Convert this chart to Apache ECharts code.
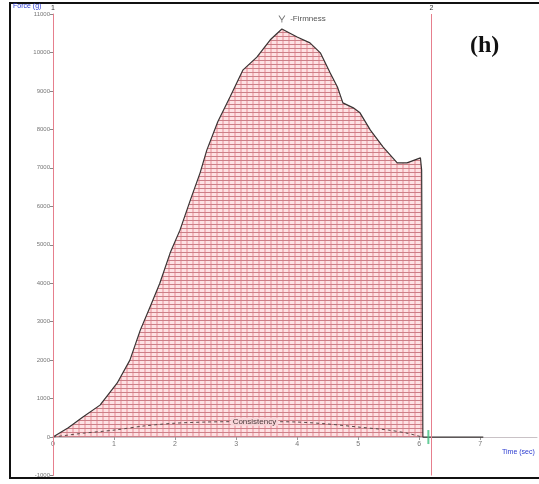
<!DOCTYPE html>
<html><head><meta charset="utf-8">
<script src="https://cdn.jsdelivr.net/npm/echarts@6/dist/echarts.min.js"></script>
<style>html,body{margin:0;padding:0;background:#fff}#c{width:539px;height:484px}</style>
</head><body><div id="c"></div>
<script>
// Firmness curve: time (s), force (g)
const firmTime  = [0, 0.25, 0.49, 0.77, 1.05, 1.26, 1.43, 1.59, 1.75, 1.92, 2.08, 2.25, 2.41, 2.52, 2.70, 2.90, 3.11, 3.34, 3.56, 3.75, 4.00, 4.21, 4.38, 4.54, 4.66, 4.75, 4.92, 5.03, 5.20, 5.41, 5.64, 5.80, 6.02, 6.04, 6.05, 6.06, 6.20, 7.05];
const firmForce = [0, 240, 520, 830, 1400, 2000, 2780, 3380, 4000, 4790, 5380, 6160, 6870, 7460, 8200, 8840, 9540, 9880, 10330, 10610, 10400, 10250, 9990, 9470, 9100, 8690, 8560, 8430, 7980, 7540, 7130, 7130, 7260, 6940, 6940, 0, 0, 0];
// Consistency curve (dashed)
const consTime  = [0, 0.5, 1.0, 1.5, 2.0, 2.5, 3.0, 3.5, 4.0, 4.5, 5.0, 5.5, 5.8, 6.05];
const consForce = [0, 100, 180, 290, 360, 390, 400, 400, 390, 340, 260, 180, 100, 0];
// Anchors
const anchorTimes = [0, 6.2];
const anchorNames = ['1', '2'];
const peakTime = 3.75, peakForce = 10610;
const consLabelAt = [3.3, 400];
const yTicks = {min: -1000, max: 11000, interval: 1000};
const xTicks = {min: 0, max: 7.93, interval: 1};

// hatch pattern
const pc = document.createElement('canvas');
pc.width = 6; pc.height = 4;
const g = pc.getContext('2d');
g.fillStyle = '#fde2e4'; g.fillRect(0,0,6,4);
g.fillStyle = '#f4b6bc'; g.fillRect(0,0,2,4);
g.fillStyle = '#cc7f87'; g.fillRect(0,0,6,1);

const chart = echarts.init(document.getElementById('c'), null, {renderer:'canvas'});
const fmt = v => (Math.abs(v - Math.round(v)) < 1e-6 ? String(Math.round(v)) : '');
const pinkLine = {color: '#e67f8d', width: 1, type: 'solid', opacity: 1};
chart.setOption({
  animation: false,
  backgroundColor: '#fff',
  grid: {left: 53, right: 2, top: 14, bottom: 8.5, containLabel: false},
  xAxis: {
    type: 'value', min: xTicks.min, max: xTicks.max, interval: xTicks.interval,
    offset: -38.5,
    axisLine: {onZero: false, lineStyle: {color: '#c9c2c6', width: 1}},
    axisTick: {show: true, length: 3, lineStyle: {color: '#999'}},
    axisLabel: {formatter: fmt, fontSize: 7, color: '#777', margin: 4, showMaxLabel: false, fontFamily: 'Liberation Sans'},
    splitLine: {show: false}
  },
  yAxis: {
    type: 'value', min: yTicks.min, max: yTicks.max, interval: yTicks.interval,
    axisLine: {show: true, lineStyle: {color: '#e8939e', width: 1}},
    axisTick: {show: true, length: 3, lineStyle: {color: '#888'}},
    axisLabel: {formatter: v => String(v), fontSize: 6, color: '#777', margin: 3, fontFamily: 'Liberation Sans'},
    splitLine: {show: false}
  },
  series: [
    {
      type: 'line', name: 'Firmness', symbol: 'none', z: 3,
      data: firmTime.map((t,i) => [t, firmForce[i]]),
      lineStyle: {color: '#3a3434', width: 1.2},
      areaStyle: {color: {image: pc, repeat: 'repeat'}, opacity: 1},
      markLine: {
        silent: true, symbol: 'none',
        lineStyle: pinkLine,
        label: {show: true, position: 'end', formatter: p => p.name, fontSize: 7, color: '#333', distance: 2},
        data: anchorTimes.map((t,i) => ({name: anchorNames[i], xAxis: t, lineStyle: pinkLine}))
      },
      markPoint: {
        symbol: 'path://M0,0 L5,8 L10,0 M5,8 L5,12', symbolSize: [6, 7], symbolOffset: [0, -10],
        itemStyle: {color: 'none', borderColor: '#777', borderWidth: 1},
        label: {show: true, position: 'right', formatter: '-Firmness', fontSize: 8, color: '#555', offset: [-2, 0], fontFamily: 'Liberation Sans'},
        data: [{coord: [peakTime, peakForce]}]
      }
    },
    {
      type: 'line', name: 'Consistency', symbol: 'none', z: 4, smooth: 0.3,
      data: consTime.map((t,i) => [t, consForce[i]]),
      lineStyle: {color: '#5a4a4a', width: 1, type: [3, 3]},
      markPoint: {
        symbol: 'rect', symbolSize: [1, 1], itemStyle: {color: 'transparent'},
        label: {show: true, position: 'inside', formatter: 'Consistency', fontSize: 8, color: '#4a3a3a', backgroundColor: 'rgba(250,215,218,0.9)', padding: [0, 2], fontFamily: 'Liberation Sans'},
        data: [{coord: consLabelAt}]
      }
    },
    {
      type: 'scatter', name: 'end', z: 5,
      symbol: 'rect', symbolSize: [2, 14],
      itemStyle: {color: '#3fbf7f'},
      data: [[6.15, 0]]
    }
  ],
  graphic: [
    {type: 'rect', shape: {x: 10, y: 3, width: 540, height: 475}, style: {fill: 'none', stroke: '#111', lineWidth: 2}, z: 100},
    {type: 'text', left: 13, top: 3, style: {text: 'Force (g)', fontSize: 7, fill: '#2a3ad0', fontFamily: 'Liberation Sans'}, z: 100},
    {type: 'text', left: 502, top: 449, style: {text: 'Time (sec)', fontSize: 7, fill: '#2a3ad0', fontFamily: 'Liberation Sans'}, z: 100},
    {type: 'text', left: 470, top: 34, style: {text: '(h)', fontSize: 24, fontWeight: 'bold', fill: '#111', fontFamily: 'Liberation Serif'}, z: 100}
  ]
});
</script></body></html>
